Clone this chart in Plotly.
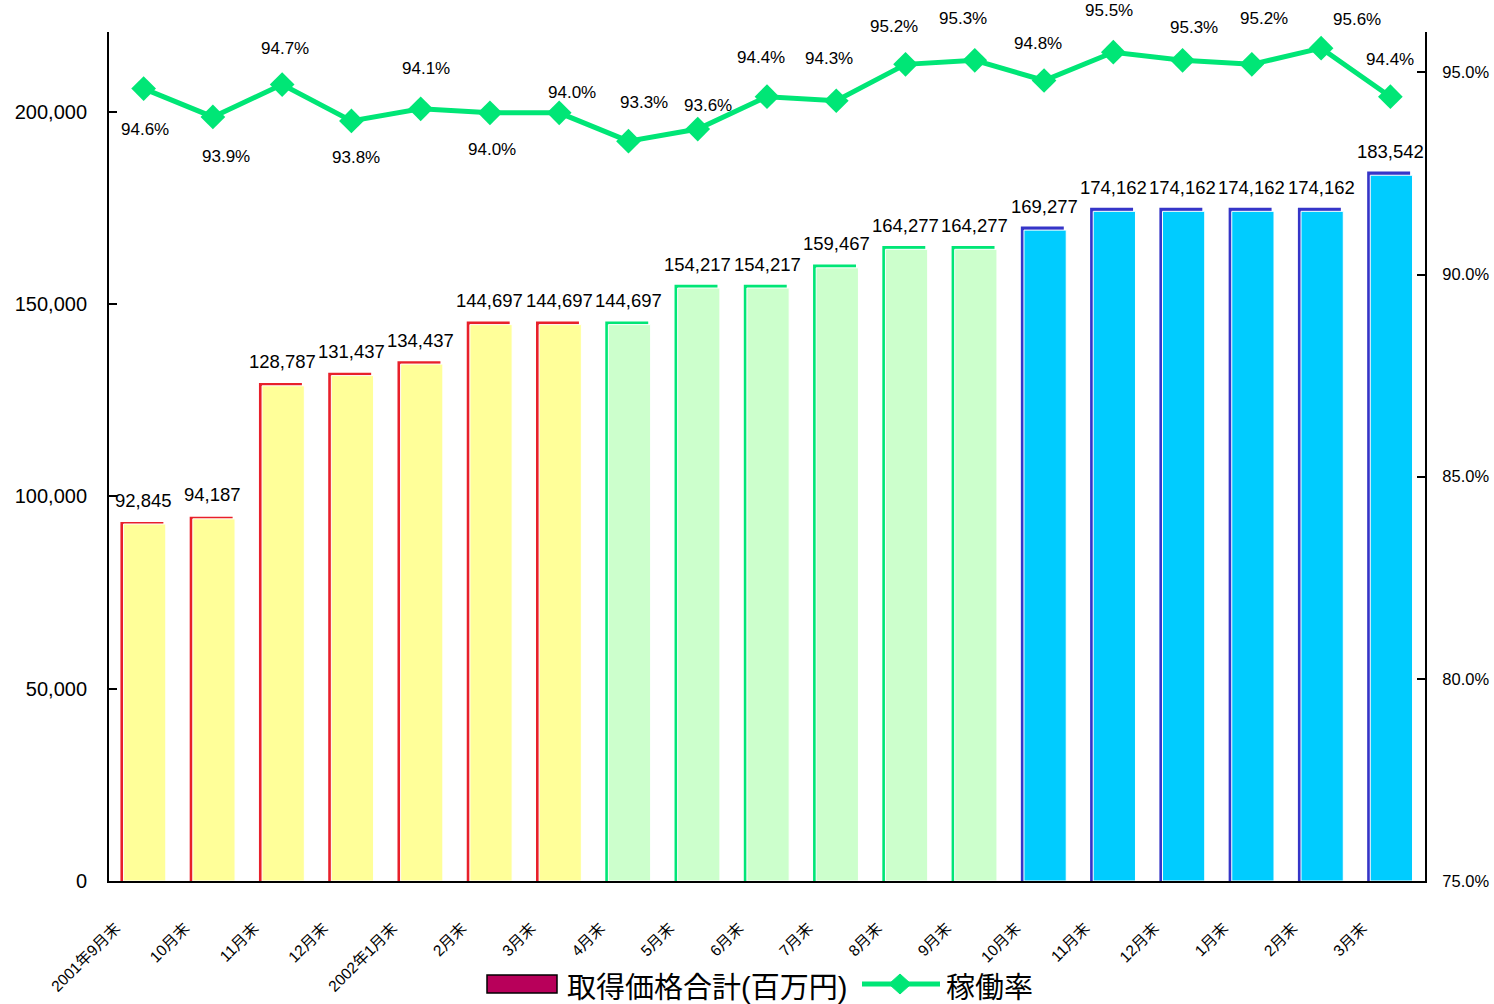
import plotly.graph_objects as go

# ---------------- data ----------------
categories = ["2001年9月末", "10月末", "11月末", "12月末", "2002年1月末", "2月末", "3月末",
              "4月末", "5月末", "6月末", "7月末", "8月末", "9月末",
              "10月末", "11月末", "12月末", "1月末", "2月末", "3月末"]
acq_price = [92845, 94187, 128787, 131437, 134437, 144697, 144697,
             144697, 154217, 154217, 159467, 164277, 164277,
             169277, 174162, 174162, 174162, 174162, 183542]
occupancy = [94.6, 93.9, 94.7, 93.8, 94.1, 94.0, 94.0,
             93.3, 93.6, 94.4, 94.3, 95.2, 95.3,
             94.8, 95.5, 95.3, 95.2, 95.6, 94.4]
fiscal_group = ["A"] * 7 + ["B"] * 6 + ["C"] * 6

# ---------------- styles ----------------
FONT = "Liberation Sans, Arial, Noto Sans CJK JP"
fill_color = {"A": "#FFFF99", "B": "#CCFFCC", "C": "#00CCFF"}
edge_color = {"A": "#E8202A", "B": "#00E676", "C": "#3535C8"}
LINE_GREEN = "#00E676"
# label offsets (pixels) for the occupancy labels
lab_dx = [1, 13, 3, 5, 5, 2, 13, 16, 10, -6, -7, -12, -12, -6, -4, 11, 12, 36, 0]
lab_dy = [-41, -40, 36, -37, 40, -37, 20, 39, 24, 39, 42, 38, 42, 37, 42, 33, 46, 29, 37]

xs = list(range(len(categories)))
fills = [fill_color[g] for g in fiscal_group]
edges = [edge_color[g] for g in fiscal_group]

fig = go.Figure()

# back (edge) bars - slightly taller scale, shifted left
fig.add_trace(go.Bar(
    x=xs, y=acq_price, yaxis="y", width=0.62, offset=-0.335,
    marker=dict(color=edges, line=dict(width=0)), showlegend=False, hoverinfo="skip"))
# front (fill) bars
fig.add_trace(go.Bar(
    x=xs, y=acq_price, yaxis="y2", width=0.61, offset=-0.29,
    marker=dict(color=fills, line=dict(color="white", width=1)), showlegend=False))
# occupancy line
fig.add_trace(go.Scatter(
    x=xs, y=occupancy, yaxis="y3", mode="lines+markers",
    line=dict(color=LINE_GREEN, width=5),
    marker=dict(symbol="diamond", size=19, color=LINE_GREEN),
    showlegend=False))

annotations = []
for x, v in zip(xs, acq_price):
    annotations.append(dict(x=x, y=v, xref="x", yref="y2", text=f"{v:,}", showarrow=False,
                            yanchor="middle", yshift=24, font=dict(size=18.5, color="black", family=FONT)))
for x, v, dx, dy in zip(xs, occupancy, lab_dx, lab_dy):
    annotations.append(dict(x=x, y=v, xref="x", yref="y3", text=f"{v:.1f}%", showarrow=False,
                            xshift=dx, yshift=dy, yanchor="middle",
                            font=dict(size=17, color="black", family=FONT)))

# custom legend
L, R, T, B = 109, 1425, 32, 881
def px(xp):
    return (xp - L) / (R - L)
def py(yp):
    return (B - yp) / (B - T)

annotations.append(dict(x=px(565), y=py(988), xref="paper", yref="paper", text="取得価格合計(百万円)",
                        showarrow=False, xanchor="left", yanchor="middle",
                        font=dict(size=29, color="black", family=FONT)))
annotations.append(dict(x=px(944), y=py(988), xref="paper", yref="paper", text="稼働率",
                        showarrow=False, xanchor="left", yanchor="middle",
                        font=dict(size=29, color="black", family=FONT)))
shapes = [
    dict(type="rect", xref="paper", yref="paper", x0=px(487), x1=px(557), y0=py(993), y1=py(975),
         fillcolor="#B8005A", line=dict(color="black", width=1.5)),
    dict(type="line", xref="paper", yref="paper", x0=px(862), x1=px(940), y0=py(984), y1=py(984),
         line=dict(color=LINE_GREEN, width=5)),
    dict(type="path", xref="paper", yref="paper", xsizemode="pixel", ysizemode="pixel",
         xanchor=px(900), yanchor=py(984), path="M-11,0 L0,-10 L11,0 L0,10 Z",
         fillcolor=LINE_GREEN, line=dict(color=LINE_GREEN, width=1)),
]

fig.update_layout(
    width=1494, height=1004,
    margin=dict(l=L, r=1494 - R, t=T, b=1004 - B, autoexpand=False),
    paper_bgcolor="white", plot_bgcolor="white",
    barmode="overlay",
    font=dict(family=FONT, color="black"),
    xaxis=dict(range=[-0.5, len(categories) - 0.5], tickmode="array", tickvals=xs, ticktext=categories,
               tickangle=-45, ticks="", showgrid=False, zeroline=False, automargin=False,
               showline=True, linecolor="black", linewidth=2,
               tickfont=dict(size=15.5, family=FONT), ticklabelstandoff=30, ticklabelshift=-28),
    yaxis=dict(range=[0, 219600], visible=False, showgrid=False, zeroline=False, automargin=False),
    yaxis2=dict(range=[0, 220800], overlaying="y", side="left", dtick=50000, tickformat=",d",
                showgrid=False, zeroline=False, showline=True, linecolor="black", linewidth=2,
                ticks="inside", ticklen=8, tickwidth=2, tickcolor="black", automargin=False,
                tickfont=dict(size=20, family=FONT), ticklabelstandoff=16),
    yaxis3=dict(range=[75, 96], overlaying="y", side="right", dtick=5, tickformat=".1f", ticksuffix="%",
                showgrid=False, zeroline=False, showline=True, linecolor="black", linewidth=2,
                ticks="inside", ticklen=8, tickwidth=2, tickcolor="black", automargin=False,
                tickfont=dict(size=16.5, family=FONT), ticklabelstandoff=12),
    annotations=annotations, shapes=shapes,
)

fig.write_html("out.html")
